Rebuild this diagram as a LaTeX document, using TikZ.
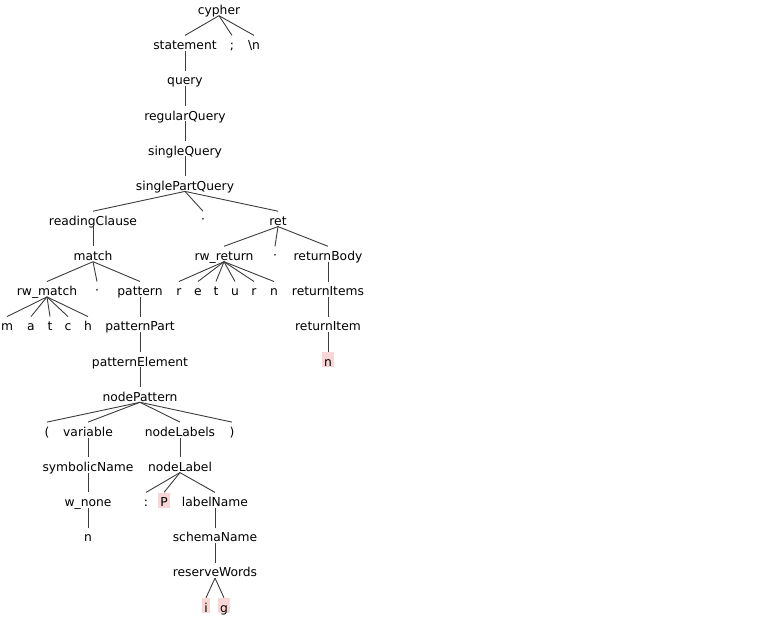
\documentclass[tikz,border=0pt]{standalone}
\usepackage{fontspec}
\setmainfont{DejaVu Sans}
\usepackage{xcolor}
\definecolor{hlpink}{RGB}{248,214,214}
\definecolor{edgegray}{RGB}{60,60,60}

\begin{document}
\begin{tikzpicture}[x=1pt,y=-1pt,
  lbl/.style={anchor=base,inner xsep=2pt,inner ysep=1pt,text height=13pt,text depth=0pt,
    font=\fontsize{12.3}{14}\selectfont},
  hl/.style={lbl,fill=hlpink},
  edge/.style={draw=edgegray,line width=0.9pt}]
\useasboundingbox (0,0) rectangle (766,634);
% level 0-5
\node[lbl] (cypher) at (219,14.5) {cypher};
\node[lbl] (statement) at (185,49.6) {statement};
\node[lbl] (semi) at (232,49.6) {;};
\node[lbl] (newline) at (254,49.6) {\textbackslash n};
\node[lbl] (query) at (185,84.8) {query};
\node[lbl] (regularQuery) at (185,120) {regularQuery};
\node[lbl] (singleQuery) at (185,155.1) {singleQuery};
\node[lbl] (singlePartQuery) at (185,190.2) {singlePartQuery};
% level 6-7
\node[lbl] (readingClause) at (93,225.4) {readingClause};
\node[lbl] (spA) at (203,225.4) {\raisebox{1.5pt}{·}};
\node[lbl] (ret) at (278,225.4) {ret};
\node[lbl] (match) at (93,260.5) {match};
\node[lbl] (rwReturn) at (224,260.5) {rw\_return};
\node[lbl] (spB) at (275,260.5) {\raisebox{1.5pt}{·}};
\node[lbl] (returnBody) at (328,260.5) {returnBody};
% level 8
\node[lbl] (rwMatch) at (47,295.7) {rw\_match};
\node[lbl] (spC) at (97,295.7) {\raisebox{1.5pt}{·}};
\node[lbl] (pattern) at (140,295.7) {pattern};
\node[lbl] (rA) at (179,295.7) {r};
\node[lbl] (eA) at (198,295.7) {e};
\node[lbl] (tA) at (216,295.7) {t};
\node[lbl] (uA) at (235,295.7) {u};
\node[lbl] (rB) at (254,295.7) {r};
\node[lbl] (nA) at (274,295.7) {n};
\node[lbl] (returnItems) at (328,295.7) {returnItems};
% level 9-11
\node[lbl] (mB) at (7,330.8) {m};
\node[lbl] (aB) at (31,330.8) {a};
\node[lbl] (tB) at (50,330.8) {t};
\node[lbl] (cB) at (68,330.8) {c};
\node[lbl] (hB) at (88,330.8) {h};
\node[lbl] (patternPart) at (140,330.8) {patternPart};
\node[lbl] (returnItem) at (328,330.8) {returnItem};
\node[lbl] (patternElement) at (140,366) {patternElement};
\node[hl] (retVar) at (328,366) {n};
\node[lbl] (nodePattern) at (140,401.1) {nodePattern};
% level 12-17
\node[lbl] (lpar) at (47,436.3) {(};
\node[lbl] (variable) at (88,436.3) {variable};
\node[lbl] (nodeLabels) at (180,436.3) {nodeLabels};
\node[lbl] (rpar) at (232,436.3) {)};
\node[lbl] (symbolicName) at (88,471.4) {symbolicName};
\node[lbl] (nodeLabel) at (180,471.4) {nodeLabel};
\node[lbl] (wNone) at (88,506.6) {w\_none};
\node[lbl] (colon) at (146,506.6) {:};
\node[hl] (labP) at (164,506.6) {P};
\node[lbl] (labelName) at (215,506.6) {labelName};
\node[lbl] (nodeVar) at (88,541.7) {n};
\node[lbl] (schemaName) at (215,541.7) {schemaName};
\node[lbl] (reserveWords) at (215,576.9) {reserveWords};
\node[hl] (wI) at (206,612) {i};
\node[hl] (wG) at (224,612) {g};
% edges
\draw[edge] (cypher.south) -- (statement.north);
\draw[edge] (cypher.south) -- (semi.north);
\draw[edge] (cypher.south) -- (newline.north);
\draw[edge] (statement.south) -- (query.north);
\draw[edge] (query.south) -- (regularQuery.north);
\draw[edge] (regularQuery.south) -- (singleQuery.north);
\draw[edge] (singleQuery.south) -- (singlePartQuery.north);
\draw[edge] (singlePartQuery.south) -- (readingClause.north);
\draw[edge] (singlePartQuery.south) -- (spA.north);
\draw[edge] (singlePartQuery.south) -- (ret.north);
\draw[edge] (readingClause.south) -- (match.north);
\draw[edge] (ret.south) -- (rwReturn.north);
\draw[edge] (ret.south) -- (spB.north);
\draw[edge] (ret.south) -- (returnBody.north);
\draw[edge] (match.south) -- (rwMatch.north);
\draw[edge] (match.south) -- (spC.north);
\draw[edge] (match.south) -- (pattern.north);
\draw[edge] (rwReturn.south) -- (rA.north);
\draw[edge] (rwReturn.south) -- (eA.north);
\draw[edge] (rwReturn.south) -- (tA.north);
\draw[edge] (rwReturn.south) -- (uA.north);
\draw[edge] (rwReturn.south) -- (rB.north);
\draw[edge] (rwReturn.south) -- (nA.north);
\draw[edge] (returnBody.south) -- (returnItems.north);
\draw[edge] (rwMatch.south) -- (mB.north);
\draw[edge] (rwMatch.south) -- (aB.north);
\draw[edge] (rwMatch.south) -- (tB.north);
\draw[edge] (rwMatch.south) -- (cB.north);
\draw[edge] (rwMatch.south) -- (hB.north);
\draw[edge] (pattern.south) -- (patternPart.north);
\draw[edge] (returnItems.south) -- (returnItem.north);
\draw[edge] (patternPart.south) -- (patternElement.north);
\draw[edge] (returnItem.south) -- (retVar.north);
\draw[edge] (patternElement.south) -- (nodePattern.north);
\draw[edge] (nodePattern.south) -- (lpar.north);
\draw[edge] (nodePattern.south) -- (variable.north);
\draw[edge] (nodePattern.south) -- (nodeLabels.north);
\draw[edge] (nodePattern.south) -- (rpar.north);
\draw[edge] (variable.south) -- (symbolicName.north);
\draw[edge] (nodeLabels.south) -- (nodeLabel.north);
\draw[edge] (symbolicName.south) -- (wNone.north);
\draw[edge] (nodeLabel.south) -- (colon.north);
\draw[edge] (nodeLabel.south) -- (labP.north);
\draw[edge] (nodeLabel.south) -- (labelName.north);
\draw[edge] (wNone.south) -- (nodeVar.north);
\draw[edge] (labelName.south) -- (schemaName.north);
\draw[edge] (schemaName.south) -- (reserveWords.north);
\draw[edge] (reserveWords.south) -- (wI.north);
\draw[edge] (reserveWords.south) -- (wG.north);
\end{tikzpicture}
\end{document}
